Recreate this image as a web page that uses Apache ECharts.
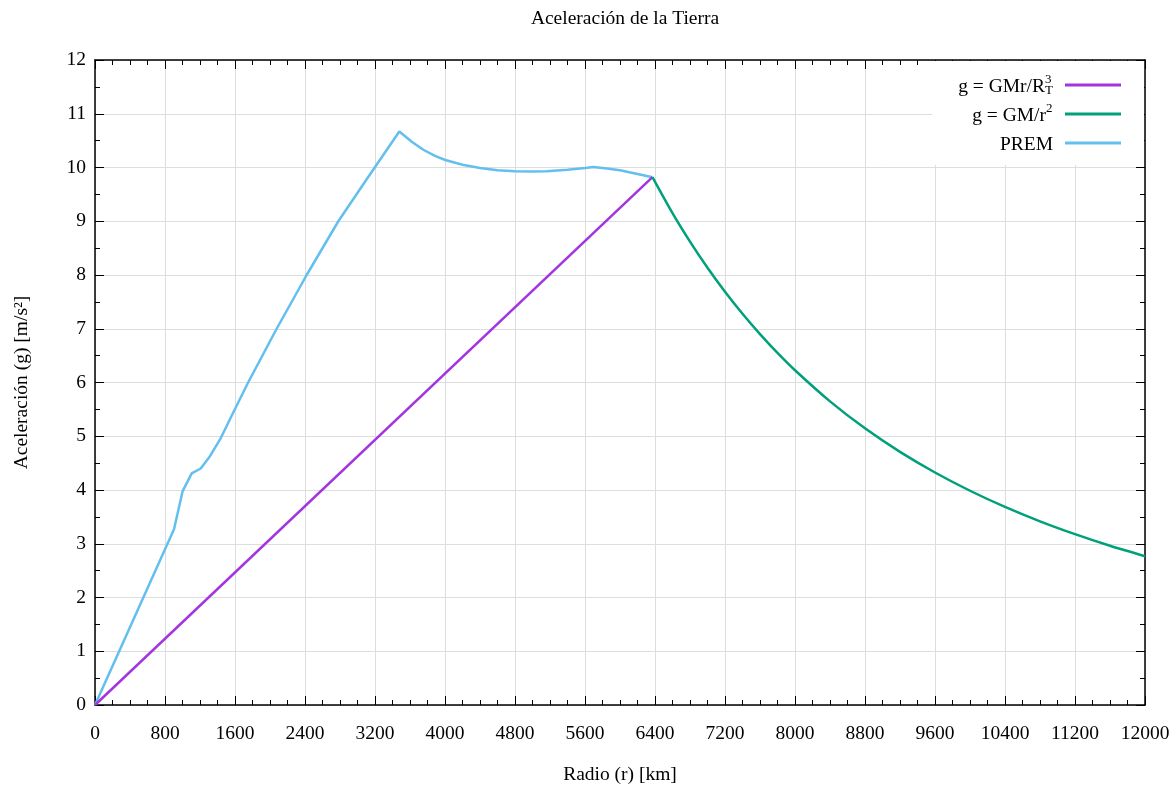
<!DOCTYPE html>
<html><head><meta charset="utf-8">
<script src="https://cdn.jsdelivr.net/npm/echarts@6/dist/echarts.min.js"></script>
<style>html,body{margin:0;padding:0;background:#fff}#c{width:1175px;height:790px}</style>
</head><body><div id="c"></div>
<script>
const titleText = 'Aceleración de la Tierra';
const xName = 'Radio (r) [km]';
const yName = 'Aceleración (g) [m/s²]';
const seriesNames = ['g = GMr/R_T^3', 'g = GM/r^2', 'PREM'];

const linearR = [0, 6371];
const linearG = [0, 9.82];

const newtonR = [6371, 6600, 6800, 7000, 7200, 7400, 7600, 7800, 8000, 8400, 8800, 9200, 9600, 10000, 10400, 10800, 11200, 11600, 12000];
const newtonG = [9.82, 9.15, 8.62, 8.134, 7.689, 7.279, 6.901, 6.551, 6.228, 5.649, 5.147, 4.709, 4.325, 3.986, 3.685, 3.417, 3.178, 2.962, 2.768];

const premR = [0, 903, 1002, 1105, 1208, 1314, 1429, 1604, 1750, 2076, 2419, 2781, 3105, 3478, 3620, 3752, 3880, 4003, 4200, 4400, 4600, 4803, 5000, 5162, 5400, 5603, 5695, 5850, 6000, 6200, 6371];
const premG = [0, 3.27, 3.98, 4.31, 4.40, 4.63, 4.94, 5.52, 6.0, 7.0, 8.0, 9.0, 9.78, 10.67, 10.48, 10.33, 10.22, 10.14, 10.05, 9.99, 9.95, 9.93, 9.925, 9.93, 9.96, 9.99, 10.01, 9.98, 9.95, 9.88, 9.82];

const xTicks = {min: 0, max: 12000, interval: 800};
const yTicks = {min: 0, max: 12, interval: 1};

const FONT = '"Liberation Serif", "DejaVu Serif", serif';
const FS = 19.5;
const pairs = (a, b) => a.map((v, i) => [v, b[i]]);

const chart = echarts.init(document.getElementById('c'), null, {renderer: 'canvas'});
const baseX = {
  type: 'value', min: xTicks.min, max: xTicks.max, interval: xTicks.interval,
  axisLine: {show: true, onZero: false, lineStyle: {color: '#000', width: 1.5}},
  axisTick: {show: true, inside: true, length: 9, lineStyle: {color: '#000', width: 1}},
  minorTick: {show: true, splitNumber: 4, length: 5, lineStyle: {color: '#000', width: 1}},
};
const baseY = {
  type: 'value', min: yTicks.min, max: yTicks.max, interval: yTicks.interval,
  axisLine: {show: true, onZero: false, lineStyle: {color: '#000', width: 1.5}},
  axisTick: {show: true, inside: true, length: 9, lineStyle: {color: '#000', width: 1}},
  minorTick: {show: true, splitNumber: 2, length: 5, lineStyle: {color: '#000', width: 1}},
};
const legendFmt = {
  'g = GMr/R_T^3': '{n|g = GMr/R}{sub|T}{sup|3}{e| }',
  'g = GM/r^2': '{n|g = GM/r}{sup2|2}{e| }',
  'PREM': '{n|PREM}{e| }'
};
const colors = ['#a235e0', '#00a07a', '#62bfee'];

chart.setOption({
  animation: false,
  backgroundColor: '#fff',
  title: {text: titleText, left: 620, textAlign: 'center', top: 4,
    textStyle: {fontFamily: FONT, fontSize: FS, fontWeight: 'normal', color: '#000'}},
  grid: {left: 95, right: 30, top: 60, bottom: 84, containLabel: false},
  legend: {
    orient: 'vertical', right: 31, top: 61, align: 'right',
    backgroundColor: '#fff', padding: [12, 23, 10, 26], itemGap: 5,
    itemWidth: 56, itemHeight: 3, icon: 'rect',
    data: seriesNames,
    formatter: n => legendFmt[n],
    textStyle: {fontFamily: FONT, fontSize: FS, color: '#000',
      rich: {
        n: {fontFamily: FONT, fontSize: FS, color: '#000', lineHeight: 24, verticalAlign: 'middle', align: 'left', padding: [4, 0, 0, 0]},
        sub: {fontFamily: FONT, fontSize: 13, color: '#000', verticalAlign: 'bottom', lineHeight: 24, width: 0.01, align: 'left'},
        sup: {fontFamily: FONT, fontSize: 13, color: '#000', verticalAlign: 'top', lineHeight: 24, width: 8, align: 'left'},
        sup2: {fontFamily: FONT, fontSize: 13, color: '#000', verticalAlign: 'top', lineHeight: 24, width: 7, align: 'left'},
        e: {fontSize: FS, width: 7, lineHeight: 24, align: 'left'}
      }}
  },
  xAxis: [
    Object.assign({}, baseX, {
      position: 'bottom', name: xName, nameLocation: 'middle', nameGap: 60,
      nameTextStyle: {fontFamily: FONT, fontSize: FS, color: '#000'},
      axisLabel: {fontFamily: FONT, fontSize: FS, color: '#000', margin: 19, formatter: v => String(v)},
      splitLine: {show: true, lineStyle: {color: '#dddddd', width: 1}}
    }),
    Object.assign({}, baseX, {position: 'top', axisLabel: {show: false}, splitLine: {show: false}})
  ],
  yAxis: [
    Object.assign({}, baseY, {
      position: 'left', name: yName, nameLocation: 'middle', nameGap: 63,
      nameTextStyle: {fontFamily: FONT, fontSize: FS, color: '#000'},
      axisLabel: {fontFamily: FONT, fontSize: FS, color: '#000', margin: 9, formatter: v => String(v)},
      splitLine: {show: true, lineStyle: {color: '#dddddd', width: 1}}
    }),
    Object.assign({}, baseY, {position: 'right', axisLabel: {show: false}, splitLine: {show: false}})
  ],
  series: [
    {name: seriesNames[0], type: 'line', data: pairs(linearR, linearG), showSymbol: false, symbol: 'none',
      lineStyle: {color: colors[0], width: 2.5}, itemStyle: {color: colors[0]}, z: 3},
    {name: seriesNames[1], type: 'line', data: pairs(newtonR, newtonG), showSymbol: false, symbol: 'none', smooth: 0.3,
      lineStyle: {color: colors[1], width: 2.5}, itemStyle: {color: colors[1]}, z: 3},
    {name: seriesNames[2], type: 'line', data: pairs(premR, premG), showSymbol: false, symbol: 'none',
      lineStyle: {color: colors[2], width: 2.5}, itemStyle: {color: colors[2]}, z: 2}
  ]
});
</script>
</body></html>
